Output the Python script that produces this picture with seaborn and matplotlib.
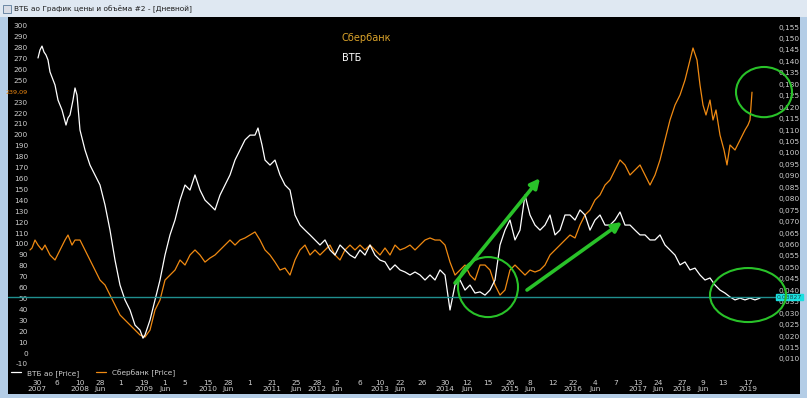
import numpy as np
import pandas as pd
import matplotlib
matplotlib.use("Agg")
import matplotlib.pyplot as plt
import matplotlib.transforms as mtransforms
from matplotlib.patches import Ellipse, Rectangle
import seaborn as sns

# ---------------- data (session index, price) ----------------
vtb_session = [120, 128, 136, 144, 152, 160, 168, 180, 188, 200, 216, 232, 240, 248, 260, 268, 276,
               288, 308, 328, 348, 368, 388, 408, 428, 448, 468, 488, 508, 528, 540, 548, 568, 588,
               608, 628, 648, 668, 688, 708, 728, 748, 768, 788, 808, 828, 848, 868, 888, 908, 928,
               948, 968, 988, 1000, 1016, 1028, 1048, 1068, 1088, 1108, 1128, 1148, 1168, 1188, 1208,
               1228, 1248, 1268, 1288, 1308, 1328, 1348, 1368, 1388, 1408, 1428, 1448, 1468, 1488,
               1508, 1528, 1548, 1568, 1588, 1608, 1628, 1648, 1668, 1688, 1708, 1728, 1748, 1768,
               1788, 1808, 1828, 1848, 1868, 1888, 1908, 1928, 1948, 1968, 1988, 2008, 2028, 2048,
               2068, 2088, 2108, 2128, 2148, 2168, 2188, 2208, 2228, 2248, 2268, 2288, 2308, 2328,
               2348, 2368, 2388, 2408, 2428, 2448, 2468, 2488, 2508, 2528, 2548, 2568, 2588, 2608,
               2628, 2648, 2668, 2688, 2708, 2728, 2748, 2768, 2788, 2808, 2828, 2848, 2868, 2888,
               2908, 2928, 2948, 2968, 2988, 3008]
vtb_price = [0.1415, 0.1450, 0.1467, 0.1441, 0.1428, 0.1406, 0.1354, 0.1319, 0.1297, 0.1231, 0.1188,
             0.1122, 0.1153, 0.1166, 0.1231, 0.1284, 0.1253, 0.1100, 0.1013, 0.0947, 0.0904, 0.0860,
             0.0773, 0.0663, 0.0532, 0.0423, 0.0358, 0.0314, 0.0248, 0.0226, 0.0191, 0.0205, 0.0270,
             0.0358, 0.0445, 0.0554, 0.0642, 0.0707, 0.0794, 0.0860, 0.0838, 0.0904, 0.0838, 0.0794,
             0.0773, 0.0751, 0.0816, 0.0860, 0.0904, 0.0969, 0.1013, 0.1057, 0.1078, 0.1078, 0.1109,
             0.1035, 0.0969, 0.0947, 0.0969, 0.0904, 0.0860, 0.0838, 0.0729, 0.0685, 0.0663, 0.0642,
             0.0620, 0.0598, 0.0620, 0.0576, 0.0554, 0.0598, 0.0576, 0.0554, 0.0541, 0.0576, 0.0554,
             0.0598, 0.0554, 0.0532, 0.0524, 0.0489, 0.0511, 0.0489, 0.0480, 0.0467, 0.0480, 0.0467,
             0.0445, 0.0467, 0.0445, 0.0489, 0.0467, 0.0314, 0.0423, 0.0445, 0.0401, 0.0423, 0.0388,
             0.0393, 0.0379, 0.0401, 0.0445, 0.0598, 0.0663, 0.0707, 0.0620, 0.0663, 0.0816, 0.0729,
             0.0685, 0.0663, 0.0685, 0.0729, 0.0642, 0.0663, 0.0729, 0.0729, 0.0707, 0.0751, 0.0729,
             0.0663, 0.0707, 0.0729, 0.0685, 0.0685, 0.0707, 0.0742, 0.0685, 0.0685, 0.0663, 0.0642,
             0.0642, 0.0620, 0.0620, 0.0642, 0.0598, 0.0576, 0.0554, 0.0511, 0.0524, 0.0489, 0.0497,
             0.0467, 0.0445, 0.0454, 0.0423, 0.0401, 0.0388, 0.0371, 0.0358, 0.0366, 0.0358, 0.0366,
             0.0358, 0.0366]

sber_session = [88, 96, 108, 120, 136, 148, 168, 188, 208, 228, 240, 256, 268, 288, 308, 328, 348,
                368, 388, 408, 428, 448, 468, 488, 508, 528, 548, 568, 588, 608, 628, 648, 668, 688,
                708, 728, 748, 768, 788, 808, 828, 848, 868, 888, 908, 928, 948, 968, 988, 1008, 1028,
                1048, 1068, 1088, 1108, 1128, 1148, 1168, 1188, 1208, 1228, 1248, 1268, 1288, 1308,
                1328, 1348, 1368, 1388, 1408, 1428, 1448, 1468, 1488, 1508, 1528, 1548, 1568, 1588,
                1608, 1628, 1648, 1668, 1688, 1708, 1728, 1748, 1768, 1788, 1808, 1828, 1848, 1868,
                1888, 1908, 1928, 1948, 1968, 1988, 2008, 2028, 2048, 2068, 2088, 2108, 2128, 2148,
                2168, 2188, 2208, 2228, 2248, 2268, 2288, 2308, 2328, 2348, 2368, 2388, 2408, 2428,
                2448, 2468, 2488, 2508, 2528, 2548, 2568, 2588, 2608, 2628, 2648, 2668, 2688, 2708,
                2728, 2740, 2756, 2768, 2780, 2792, 2808, 2820, 2832, 2848, 2864, 2876, 2888, 2908,
                2928, 2948, 2960, 2968, 2976]
sber_price = [94.5, 96.3, 103.6, 99.0, 94.5, 99.0, 89.9, 85.3, 94.5, 103.6, 108.2, 99.0, 103.6, 103.6,
              94.5, 85.3, 76.1, 66.9, 62.4, 53.2, 44.0, 34.9, 30.3, 25.7, 21.1, 16.6, 14.7, 21.1, 39.4,
              48.6, 66.9, 71.5, 76.1, 85.3, 80.7, 89.9, 94.5, 89.9, 83.4, 87.1, 89.9, 94.5, 99.0, 103.6,
              99.0, 103.6, 105.5, 108.2, 111.0, 103.6, 94.5, 89.9, 83.4, 76.1, 77.9, 71.5, 85.3, 94.5,
              99.0, 89.9, 94.5, 89.9, 94.5, 99.0, 89.9, 85.3, 94.5, 99.0, 94.5, 99.0, 94.5, 99.0, 94.5,
              89.9, 96.3, 89.9, 99.0, 94.5, 96.3, 99.0, 94.5, 99.0, 103.6, 105.5, 103.6, 103.6, 99.0,
              83.4, 71.5, 76.1, 80.7, 71.5, 66.9, 80.7, 80.7, 76.1, 62.4, 53.2, 57.8, 76.1, 80.7, 76.1,
              71.5, 76.1, 74.3, 76.1, 80.7, 89.9, 94.5, 99.0, 103.6, 108.2, 105.5, 117.4, 126.6, 131.1,
              140.3, 144.9, 154.0, 158.6, 167.8, 177.0, 172.4, 163.2, 167.8, 172.4, 163.2, 154.0, 163.2,
              177.0, 195.3, 213.6, 227.3, 236.5, 250.2, 268.6, 279.6, 268.6, 245.7, 227.3, 218.2, 231.9,
              213.6, 222.8, 199.8, 186.1, 172.4, 190.7, 186.1, 195.3, 204.4, 209.0, 213.6, 239.09]

tick_sessions = [116, 196, 288, 368, 452, 544, 628, 708, 800, 880, 968, 1056, 1152, 1236, 1316,
                 1408, 1488, 1568, 1656, 1748, 1836, 1920, 2008, 2088, 2180, 2260, 2348, 2432,
                 2520, 2600, 2696, 2780, 2860, 2960]
tick_labels = ["30\n2007", "6", "10\n2008", "28\nJun", "1", "19\n2009", "1\nJun", "5", "15\n2010",
               "28\nJun", "1", "21\n2011", "25\nJun", "28\n2012", "2\nJun", "6", "10\n2013", "22\nJun",
               "26", "30\n2014", "12\nJun", "15", "26\n2015", "8\nJun", "12", "22\n2016", "4\nJun", "7",
               "13\n2017", "24\nJun", "27\n2018", "9\nJun", "13", "17\n2019"]
left_ticks = [v for v in range(-10, 301, 10) if v != 240]
right_ticks = [0.010, 0.015, 0.020, 0.025, 0.030, 0.035, 0.040, 0.045, 0.050, 0.055, 0.060, 0.065,
               0.070, 0.075, 0.080, 0.085, 0.090, 0.095, 0.100, 0.105, 0.110, 0.115, 0.120, 0.125,
               0.130, 0.135, 0.140, 0.145, 0.150, 0.155]
sber_last = 239.09
vtb_level = 0.0371

vtb_df = pd.DataFrame({"session": vtb_session, "price": vtb_price})
sber_df = pd.DataFrame({"session": sber_session, "price": sber_price})

# ---------------- styling ----------------
sns.set_style("dark")
plt.rcParams["font.family"] = ["DejaVu Sans"]

W, H = 807, 398
fig = plt.figure(figsize=(W / 100, H / 100), dpi=100)
fig.patch.set_facecolor("#b4cde6")

# title bar
fig.patches.append(Rectangle((0, 1 - 17 / H), 1, 17 / H, transform=fig.transFigure,
                             facecolor="#dfe8f2", edgecolor="none", zorder=0))
fig.patches.append(Rectangle((3 / W, 1 - 13 / H), 8 / W, 8 / H, transform=fig.transFigure,
                             facecolor="#d9dde6", edgecolor="#5a7a9a", lw=0.6, zorder=1))
fig.text(14 / W, 1 - 9 / H, "ВТБ ао График цены и объёма #2 - [Дневной]", fontsize=5.3,
         color="#1a1a1a", va="center", ha="left")

left_px, right_px, top_px, bot_px = 8, 800, 17, 394
ax = fig.add_axes([left_px / W, (H - bot_px) / H, (right_px - left_px) / W, (bot_px - top_px) / H])
ax.set_facecolor("black")
ax2 = ax.twinx()

orange = "#f08a12"
sns.lineplot(data=sber_df, x="session", y="price", ax=ax, color=orange, lw=0.9,
             label="Сбербанк [Price]", legend=False)
sns.lineplot(data=vtb_df, x="session", y="price", ax=ax2, color="white", lw=0.9,
             label="ВТБ ао [Price]", legend=False)

ax.set_xlim(0, 3168)
ax.set_ylim(-37.5, 308.0)
ax2.set_ylim(-0.0053, 0.1594)
for a in (ax, ax2):
    a.set_xlabel("")
    a.set_ylabel("")
    a.grid(False)
    for s in a.spines.values():
        s.set_visible(False)

tick_color = "#cfcfcf"
ax.set_yticks(left_ticks)
ax.set_yticklabels([str(v) for v in left_ticks])
ax.tick_params(axis="y", length=0, pad=-14.4, labelsize=5.3, labelcolor=tick_color)
ax2.set_yticks(right_ticks)
ax2.set_yticklabels([f"{v:.3f}".replace(".", ",") for v in right_ticks])
ax2.tick_params(axis="y", length=0, pad=-15.8, labelsize=5.3, labelcolor=tick_color)
ax.set_xticks(tick_sessions)
ax.set_xticklabels(tick_labels, linespacing=0.95)
ax.tick_params(axis="x", length=0, pad=-10, labelsize=5.3, labelcolor=tick_color)

# last price of Sber on left scale
trans_l = mtransforms.blended_transform_factory(ax.transAxes, ax.transData)
ax.text(20 / 792, sber_last, f"{sber_last:.2f}".replace(".", ","), transform=trans_l,
        ha="right", va="center", fontsize=4.6, color=orange)

# horizontal level line + price box on right
ax2.axhline(vtb_level, xmin=0, xmax=(776 - 8) / 792, color="#1f8f8f", lw=1.0)
trans_r = mtransforms.blended_transform_factory(ax2.transAxes, ax2.transData)
ax2.text((777 - 8) / 792, vtb_level, "0,03827", transform=trans_r, ha="left",
         va="center", fontsize=4.4, color="#1a4a4a",
         bbox=dict(boxstyle="square,pad=0.12", facecolor="#19e0e0", edgecolor="#19e0e0"))

# series captions
fig.text(341 / W, 1 - 38 / H, "Сбербанк", fontsize=7, color="#d9a22a", va="center", ha="left")
fig.text(342 / W, 1 - 58 / H, "ВТБ", fontsize=7, color="white", va="center", ha="left")

# annotations (green circles & arrows) on Sber scale
green = "#29c229"
for cx, cy, w, h in [(1920, 60.5, 240, 55), (2960, 53.2, 304, 49.5), (3024, 239.2, 224, 46)]:
    ax2.add_patch(Ellipse((cx, cy), w, h, transform=ax.transData, fill=False,
                          edgecolor=green, lw=1.5, zorder=5))
for (x0, y0), (x1, y1) in [((1788, 64.2), (2128, 160.3)), ((2076, 57.8), (2456, 120.1))]:
    ax2.annotate("", xy=(x1, y1), xytext=(x0, y0), xycoords=ax.transData,
                 textcoords=ax.transData,
                 arrowprops=dict(arrowstyle="-|>", color=green, lw=2.6, mutation_scale=14,
                                 shrinkA=0, shrinkB=0), zorder=6)

# legend
handles = ax2.get_lines()[:1] + ax.get_lines()[:1]
labels = ["ВТБ ао [Price]", "Сбербанк [Price]"]
leg = ax2.legend(handles, labels, loc="upper left", bbox_to_anchor=(0.004, 0.066), ncol=2,
                 frameon=False, fontsize=5.3, labelcolor=tick_color, handlelength=1.4,
                 columnspacing=2.2, handletextpad=0.8, borderaxespad=0, borderpad=0)

fig.savefig("out.png", dpi=100, facecolor=fig.get_facecolor())
